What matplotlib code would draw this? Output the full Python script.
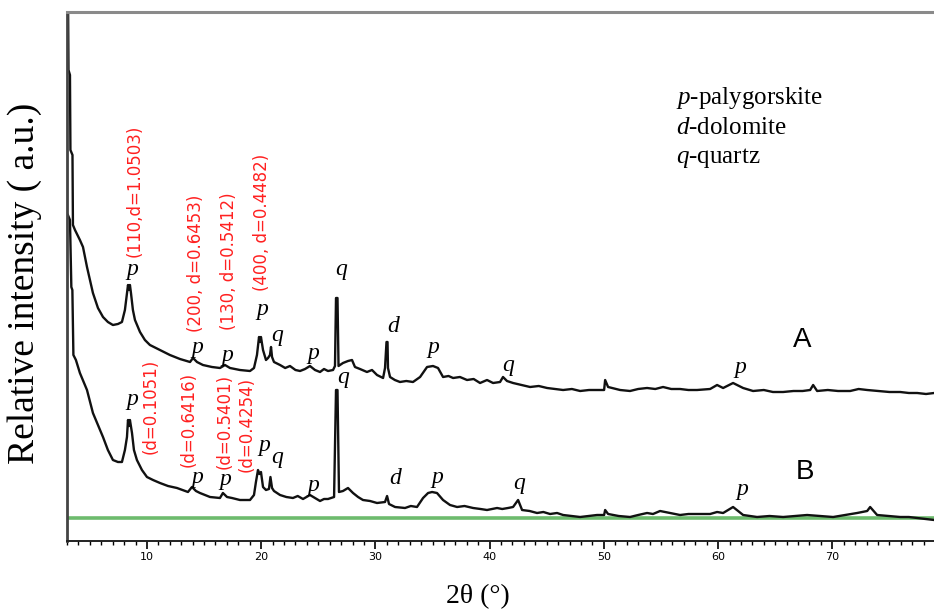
import matplotlib
matplotlib.use("Agg")
import matplotlib.pyplot as plt
from matplotlib.ticker import MultipleLocator

plt.rcParams["mathtext.fontset"] = "custom"
plt.rcParams["mathtext.rm"] = "Liberation Serif"
plt.rcParams["mathtext.it"] = "Liberation Serif:italic"

# sample A (upper trace): 2theta (deg), relative intensity (a.u.)
theta_a = [3.08, 3.13, 3.26, 3.30, 3.48, 3.52, 3.70, 4.13, 4.40, 4.75, 5.27, 5.71, 6.15, 6.58,
           7.02, 7.46, 7.81, 8.07, 8.25, 8.34, 8.42, 8.51, 8.60, 8.77, 8.95, 9.39, 9.82, 10.26,
           11.14, 12.01, 12.89, 13.77, 14.03, 14.38, 14.90, 15.69, 16.39, 16.83, 17.27, 18.14,
           19.02, 19.37, 19.63, 19.81, 19.89, 19.98, 20.16, 20.42, 20.60, 20.77, 20.86, 20.95,
           21.12, 21.65, 22.10, 22.52, 23.00, 23.40, 23.84, 24.27, 24.71, 25.15, 25.50, 25.85,
           26.29, 26.46, 26.55, 26.68, 26.77, 27.16, 27.60, 27.95, 28.21, 28.65, 29.26, 29.70,
           30.14, 30.67, 30.84, 30.97, 31.06, 31.10, 31.28, 31.70, 32.15, 32.70, 33.29, 33.91,
           34.52, 35.04, 35.48, 35.92, 36.40, 36.80, 37.40, 38.02, 38.60, 39.16, 39.77, 40.30,
           40.91, 41.17, 41.52, 42.05, 42.80, 43.54, 44.30, 45.03, 45.70, 46.43, 47.20, 47.92,
           48.70, 49.40, 50.02, 50.11, 50.37, 51.42, 52.29, 53.00, 53.78, 54.50, 55.18, 55.90,
           56.67, 57.40, 58.16, 59.30, 59.91, 60.44, 61.31, 62.19, 63.06, 64.00, 64.80, 65.69,
           66.60, 67.40, 68.06, 68.32, 68.67, 69.60, 70.50, 71.56, 72.30, 73.05, 74.00, 75.00,
           75.94, 76.70, 77.43, 78.20, 78.91]
int_a = [561, 471, 466, 391, 386, 316, 311, 301, 294, 274, 248, 233, 224, 219,
         216, 217, 219, 231, 248, 256, 251, 256, 248, 231, 221, 209, 201, 196,
         191, 186, 182, 179, 183, 179, 176, 174, 173, 176, 173, 171,
         170, 173, 186, 204, 199, 204, 191, 181, 183, 186, 194, 184,
         179, 176, 173, 175, 171, 170, 172, 175, 171, 169, 172, 170,
         171, 175, 243, 243, 175, 178, 180, 181, 174, 172, 169, 171,
         166, 163, 173, 199, 199, 173, 164, 161, 159, 160, 159, 164,
         174, 175, 173, 164, 165, 163, 164, 161, 162, 158, 161, 158,
         159, 164, 160, 158, 156, 154, 155, 153, 152, 151, 152, 150,
         151, 151, 151, 161, 154, 151, 150, 152, 153, 152, 154, 152,
         152, 151, 151, 152, 156, 153, 158, 153, 150, 151, 149, 149,
         150, 150, 151, 156, 150, 151, 150, 150, 152, 151, 150, 149,
         149, 148, 148, 147, 148]

# sample B (lower trace)
theta_b = [3.08, 3.26, 3.38, 3.47, 3.56, 3.78, 4.13, 4.75, 5.27, 5.71, 6.15, 6.58, 7.02, 7.46,
           7.81, 8.07, 8.25, 8.34, 8.42, 8.51, 8.69, 8.86, 9.12, 9.56, 10.00, 10.53, 11.14,
           11.84, 12.63, 13.59, 13.94, 14.29, 14.64, 15.52, 16.39, 16.65, 17.01, 17.44, 18.14,
           19.02, 19.37, 19.54, 19.72, 19.85, 19.98, 20.16, 20.42, 20.68, 20.81, 20.95, 21.12,
           21.65, 22.20, 22.78, 23.20, 23.66, 24.27, 24.71, 25.15, 25.50, 25.85, 26.38, 26.55,
           26.68, 26.81, 27.16, 27.60, 28.04, 28.48, 28.91, 29.53, 30.14, 30.84, 31.02, 31.19,
           31.72, 32.59, 33.10, 33.64, 34.17, 34.61, 34.96, 35.39, 35.92, 36.53, 37.15, 37.80,
           38.55, 39.20, 39.77, 40.65, 41.10, 41.61, 42.05, 42.49, 42.84, 43.50, 44.15, 44.70,
           45.29, 45.90, 46.43, 47.20, 47.92, 48.70, 49.40, 50.02, 50.11, 50.37, 51.30, 52.29,
           53.00, 53.78, 54.30, 54.92, 55.80, 56.67, 57.40, 58.16, 59.30, 59.91, 60.44, 61.31,
           62.19, 62.80, 63.41, 64.50, 65.69, 66.70, 67.79, 68.90, 70.07, 71.10, 72.17, 73.05,
           73.31, 73.92, 74.90, 75.94, 76.70, 77.43, 78.20, 78.91]
int_b = [326, 321, 254, 251, 186, 181, 168, 151, 128, 116, 104, 91, 81, 79,
         79, 91, 104, 121, 115, 121, 108, 91, 81, 71, 64, 61, 58,
         55, 53, 49, 54, 50, 48, 44, 43, 48, 44, 43, 41,
         41, 46, 59, 71, 67, 69, 54, 51, 52, 64, 53, 50,
         46, 44, 43, 45, 42, 46, 43, 40, 42, 42, 44, 151,
         151, 49, 50, 53, 48, 44, 41, 40, 38, 39, 45, 37,
         34, 33, 35, 34, 43, 48, 49, 48, 41, 36, 34, 35,
         33, 32, 31, 33, 32, 33, 34, 41, 31, 30, 28, 29,
         27, 28, 26, 25, 24, 25, 26, 26, 31, 27, 25, 24,
         26, 28, 27, 30, 28, 26, 27, 27, 27, 29, 28, 34,
         26, 25, 24, 25, 24, 25, 26, 25, 24, 26, 28, 30,
         34, 26, 25, 24, 24, 23, 22, 21]

baseline = 23

# phase marks: (letter, 2theta, intensity)
marks_a = [("p", 8.69, 271), ("p", 14.38, 194), ("p", 17.01, 186), ("p", 20.07, 231),
           ("q", 21.38, 206), ("p", 24.54, 187), ("q", 26.99, 271), ("d", 31.54, 215),
           ("p", 35.04, 193), ("q", 41.61, 175), ("p", 61.93, 174)]
marks_b = [("p", 8.69, 141), ("p", 14.38, 63), ("p", 16.83, 61), ("p", 20.25, 96),
           ("q", 21.38, 83), ("p", 24.54, 55), ("q", 27.16, 163), ("d", 31.72, 63),
           ("p", 35.39, 63), ("q", 42.57, 57), ("p", 62.10, 51)]

# d-spacing notes
notes = [("(110,d=1.0503)", 8.95, 350), ("(200, d=0.6453)", 14.29, 278),
         ("(130, d=0.5412)", 17.18, 280), ("(400, d=0.4482)", 20.07, 319),
         ("(d=0.1051)", 10.35, 135), ("(d=0.6416)", 13.65, 122),
         ("(d=0.5401)", 16.80, 120), ("(d=0.4254)", 18.70, 117)]

legend_lines = [r"$\it{p}$-palygorskite", r"$\it{d}$-dolomite", r"$\it{q}$-quartz"]

fig = plt.figure(figsize=(9.34, 6.10), dpi=100)
ax = fig.add_axes([67 / 934, 69 / 610, 867 / 934, 529 / 610])

ax.axhline(baseline, color="#6dbb6d", lw=2.6, zorder=1)
ax.plot(theta_a, int_a, color="#111111", lw=1.7, zorder=2)
ax.plot(theta_b, int_b, color="#111111", lw=1.7, zorder=2)

ax.set_xlim(3.0, 78.9)
ax.set_ylim(0, 529)

serif = ["Liberation Serif", "DejaVu Serif"]
for letter, x, y in marks_a + marks_b:
    ax.text(x, y, letter, family=serif, style="italic", fontsize=17,
            ha="center", va="center")

for label, x, y in notes:
    ax.text(x, y, label, color="#ff2020", fontsize=12, rotation=90,
            ha="center", va="center", family="DejaVu Sans")

ax.text(67.36, 201, "A", family="Liberation Sans", fontsize=20, ha="center", va="center")
ax.text(67.62, 69, "B", family="Liberation Sans", fontsize=20, ha="center", va="center")

for i, line in enumerate(legend_lines):
    ax.text(676 / 934, (610 - 98 - 30 * i) / 610, line, transform=fig.transFigure,
            family=serif, fontsize=18, ha="left", va="center")

ax.set_yticks([])
ax.xaxis.set_major_locator(MultipleLocator(10))
ax.xaxis.set_minor_locator(MultipleLocator(1))
ax.tick_params(axis="x", which="major", direction="out", length=6, width=1.2, pad=2,
               labelsize=8)
ax.tick_params(axis="x", which="minor", direction="out", length=3, width=1.0)
for lbl in ax.get_xticklabels():
    lbl.set_family(["Liberation Sans Narrow", "DejaVu Sans"])

ax.spines["right"].set_visible(False)
ax.spines["top"].set_color("#8a8a8a")
ax.spines["top"].set_linewidth(2.2)
ax.spines["left"].set_color("#444444")
ax.spines["left"].set_linewidth(2.0)
ax.spines["bottom"].set_color("#222222")
ax.spines["bottom"].set_linewidth(1.4)

fig.text(25 / 934, (610 - 283) / 610, "Relative intensity ( a.u.)", rotation=90,
         family=serif, fontsize=27, ha="center", va="center")
fig.text(478 / 934, (610 - 597) / 610, "2θ (°)", family=serif, fontsize=20,
         ha="center", va="center")

fig.savefig("out.png", dpi=100)
